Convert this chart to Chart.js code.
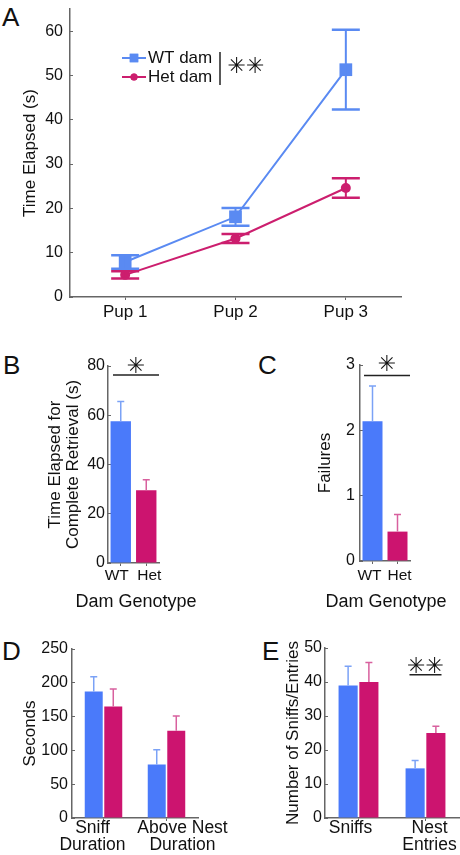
<!DOCTYPE html>
<html>
<head>
<meta charset="utf-8">
<script src="https://cdn.jsdelivr.net/npm/chart.js@4.4.1/dist/chart.umd.min.js"></script>
<style>
  body { margin: 0; background: #fff; }
  #page { position: relative; width: 460px; height: 855px; overflow: hidden; }
  canvas { position: absolute; }
  .letter { position: absolute; font: 26px 'Liberation Sans', Arial, sans-serif; line-height: 26px; color: #111; }
</style>
</head>
<body>
<div id="page">
  <div class="letter" style="left:2px;top:4px">A</div>
  <div class="letter" style="left:3px;top:352px">B</div>
  <div class="letter" style="left:258px;top:352px">C</div>
  <div class="letter" style="left:2px;top:638px">D</div>
  <div class="letter" style="left:262px;top:638px">E</div>
  <canvas id="chartA" width="460" height="335" style="left:0;top:0"></canvas>
  <canvas id="chartB" width="230" height="275" style="left:0;top:340px"></canvas>
  <canvas id="chartC" width="230" height="275" style="left:230px;top:340px"></canvas>
  <canvas id="chartD" width="230" height="240" style="left:0;top:615px"></canvas>
  <canvas id="chartE" width="230" height="240" style="left:230px;top:615px"></canvas>
</div>
<script>
// ---- data ----
const pupLabels = ['Pup 1', 'Pup 2', 'Pup 3'];
const wtTime = [7.9, 18.1, 51.3];
const wtTimeErr = [1.5, 2.0, 9.0];
const hetTime = [5.0, 13.2, 24.6];
const hetTimeErr = [0.8, 1.0, 2.2];
const timeTicks = [0, 10, 20, 30, 40, 50, 60];

const genotypes = ['WT', 'Het'];
const retrieval = [57.6, 29.5];
const retrievalErr = [8.0, 4.3];
const retrievalTicks = [0, 20, 40, 60, 80];

const failures = [2.14, 0.45];
const failuresErr = [0.54, 0.26];
const failureTicks = [0, 1, 2, 3];

const durationLabels = [['Sniff', 'Duration'], ['Above Nest', 'Duration']];
const wtDuration = [187, 79];
const wtDurationErr = [22, 22];
const hetDuration = [165, 129];
const hetDurationErr = [26, 22];
const secondTicks = [0, 50, 100, 150, 200, 250];

const countLabels = [['Sniffs'], ['Nest', 'Entries']];
const wtCount = [39.0, 14.6];
const wtCountErr = [5.6, 2.3];
const hetCount = [40.0, 25.0];
const hetCountErr = [5.7, 2.0];
const countTicks = [0, 10, 20, 30, 40, 50];

// ---- styles ----
const FONT = "'Liberation Sans', Arial, Helvetica, sans-serif";
const STAR_FONT = "bold 22px 'DejaVu Sans', sans-serif";
const AXIS = '#666';
const INK = '#111';
const BLUE_LINE = '#5a8af2', PINK_LINE = '#cc1e6e';
const BLUE = '#4a7afa', PINK = '#cc146f';
const BLUE_ERR = '#7ba2f6', PINK_ERR = '#d8609e';

// y axis with small inward tick marks (negative tick length)
function yAxis(o) {
  return {
    min: 0, max: o.max,
    afterBuildTicks: s => { s.ticks = o.ticks.map(v => ({ value: v })); },
    afterFit: s => { s.width = o.width; s.paddingTop = 0; s.paddingBottom = 0; },
    grid: { display: true, drawOnChartArea: false, drawTicks: true, tickLength: -3, color: AXIS },
    border: { display: true, color: AXIS, width: 1.5 },
    ticks: { color: INK, font: { family: FONT, size: 16 }, padding: o.pad + 3 },
    title: {
      display: true, text: o.title, color: INK,
      font: { family: FONT, size: 17, lineHeight: o.lh || 1.2 },
      padding: { top: o.titlePad, bottom: 0 }
    }
  };
}

function xAxis(o) {
  return {
    type: 'category',
    offset: true,
    afterFit: s => { s.height = o.height; s.paddingLeft = 0; s.paddingRight = 0; },
    grid: { display: true, drawOnChartArea: false, drawTicks: true, tickLength: 3, color: AXIS, offset: false },
    border: { display: true, color: AXIS, width: 1.5 },
    ticks: {
      display: o.showTicks !== false, color: INK, font: { family: FONT, size: o.size || 17 },
      padding: o.pad || 0, maxRotation: 0, autoSkip: false
    },
    title: { display: false }
  };
}

// upper error whiskers on bars
const barErrors = {
  id: 'barErrors',
  afterDatasetsDraw(chart) {
    const ctx = chart.ctx, y = chart.scales.y;
    chart.data.datasets.forEach((ds, di) => {
      chart.getDatasetMeta(di).data.forEach((bar, i) => {
        const top = y.getPixelForValue(ds.data[i]);
        const end = y.getPixelForValue(ds.data[i] + ds.errors[i]);
        ctx.save();
        ctx.strokeStyle = Array.isArray(ds.errorColor) ? ds.errorColor[i] : ds.errorColor;
        ctx.lineWidth = 1.5;
        ctx.beginPath();
        ctx.moveTo(bar.x, top); ctx.lineTo(bar.x, end);
        ctx.moveTo(bar.x - 3.5, end); ctx.lineTo(bar.x + 3.5, end);
        ctx.stroke();
        ctx.restore();
      });
    });
  }
};

// significance bar with asterisk(s)
const sigMark = {
  id: 'sigMark',
  afterDraw(chart, args, o) {
    if (!o.text) return;
    const { ctx, chartArea: ca, scales: { x, y } } = chart;
    const yl = y.getPixelForValue(o.lineAt), yt = y.getPixelForValue(o.textAt);
    let x0, x1;
    if (o.atIndex !== undefined) {
      const cx = x.getPixelForValue(o.atIndex);
      x0 = cx - o.half; x1 = cx + o.half;
    } else {
      x0 = ca.left + o.inset; x1 = ca.right;
    }
    ctx.save();
    ctx.strokeStyle = '#222'; ctx.lineWidth = 1.5;
    ctx.beginPath(); ctx.moveTo(x0, yl); ctx.lineTo(x1, yl); ctx.stroke();
    ctx.fillStyle = INK; ctx.font = STAR_FONT;
    ctx.textAlign = 'center'; ctx.textBaseline = 'middle';
    ctx.fillText(o.text, (x0 + x1) / 2, yt);
    ctx.restore();
  }
};

// category labels (and x title), nudged sideways like the original
const shiftedLabels = {
  id: 'shiftedLabels',
  afterDraw(chart, args, o) {
    if (!o.shift) return;
    const { ctx, chartArea: ca, scales: { x } } = chart;
    ctx.save();
    ctx.fillStyle = INK; ctx.font = o.size + 'px ' + FONT;
    ctx.textAlign = 'center'; ctx.textBaseline = 'middle';
    chart.data.labels.forEach((lab, i) => {
      const cx = x.getPixelForValue(i) + o.shift[i];
      [].concat(lab).forEach((line, k) => ctx.fillText(line, cx, ca.bottom + o.y0 + k * 17));
    });
    if (o.title) {
      ctx.font = '18px ' + FONT;
      ctx.fillText(o.title, (ca.left + ca.right) / 2 + o.titleShift, ca.bottom + o.titleY);
    }
    ctx.restore();
  }
};

const base = {
  responsive: false, animation: false, events: [],
  plugins: { legend: { display: false }, tooltip: { enabled: false } }
};

// ---------- A ----------
const lineErrors = {
  id: 'lineErrors',
  afterDatasetsDraw(chart) {
    const ctx = chart.ctx, y = chart.scales.y;
    chart.data.datasets.forEach((ds, di) => {
      chart.getDatasetMeta(di).data.forEach((pt, i) => {
        const hi = y.getPixelForValue(ds.data[i] + ds.errors[i]);
        const lo = y.getPixelForValue(ds.data[i] - ds.errors[i]);
        ctx.save();
        ctx.strokeStyle = ds.borderColor;
        ctx.lineWidth = 2;
        ctx.beginPath(); ctx.moveTo(pt.x, hi); ctx.lineTo(pt.x, lo); ctx.stroke();
        ctx.lineWidth = 2.5;
        ctx.beginPath();
        ctx.moveTo(pt.x - 14, hi); ctx.lineTo(pt.x + 14, hi);
        ctx.moveTo(pt.x - 14, lo); ctx.lineTo(pt.x + 14, lo);
        ctx.stroke();
        ctx.restore();
      });
    });
  }
};

const legendA = {
  id: 'legendA',
  afterDraw(chart) {
    const { ctx, chartArea: ca } = chart;
    ctx.save();
    chart.data.datasets.forEach((ds, i) => {
      const y = ca.top + 49 + i * 19;
      const x0 = ca.left + 52;
      ctx.strokeStyle = ds.borderColor; ctx.lineWidth = 2;
      ctx.beginPath(); ctx.moveTo(x0, y); ctx.lineTo(x0 + 24, y); ctx.stroke();
      ctx.fillStyle = ds.borderColor;
      Chart.helpers.drawPoint(ctx, { pointStyle: ds.pointStyle, radius: i === 0 ? 6 : 3.5, borderWidth: 0 }, x0 + 12, y);
      ctx.fill();
      ctx.fillStyle = INK; ctx.font = '17px ' + FONT;
      ctx.textAlign = 'left'; ctx.textBaseline = 'middle';
      ctx.fillText(ds.label, x0 + 26, y);
    });
    ctx.strokeStyle = '#222'; ctx.lineWidth = 1.5;
    ctx.beginPath(); ctx.moveTo(ca.left + 150, ca.top + 43); ctx.lineTo(ca.left + 150, ca.top + 76); ctx.stroke();
    ctx.fillStyle = INK; ctx.font = STAR_FONT; ctx.textAlign = 'center'; ctx.textBaseline = 'middle';
    ctx.fillText('\u2733\u2733', ca.left + 176, ca.top + 58);
    ctx.restore();
  }
};

new Chart(document.getElementById('chartA'), {
  type: 'line',
  data: {
    labels: pupLabels,
    datasets: [
      { label: 'WT dam', data: wtTime, errors: wtTimeErr, borderColor: BLUE_LINE, backgroundColor: BLUE_LINE,
        borderWidth: 2, pointStyle: 'rect', pointRadius: 9, pointBorderWidth: 0, tension: 0 },
      { label: 'Het dam', data: hetTime, errors: hetTimeErr, borderColor: PINK_LINE, backgroundColor: PINK_LINE,
        borderWidth: 2, pointStyle: 'circle', pointRadius: 5, pointBorderWidth: 0, tension: 0 }
    ]
  },
  options: Object.assign({}, base, {
    layout: { padding: { left: 0, top: 7, right: 59, bottom: 0 } },
    scales: {
      x: xAxis({ height: 38, size: 17, pad: 2 }),
      y: yAxis({ max: 65, ticks: timeTicks, width: 70, pad: 7, title: 'Time Elapsed (s)', titlePad: 20 })
    }
  }),
  plugins: [lineErrors, legendA]
});

// ---------- B ----------
new Chart(document.getElementById('chartB'), {
  type: 'bar',
  data: {
    labels: genotypes,
    datasets: [{ data: retrieval, errors: retrievalErr, backgroundColor: [BLUE, PINK], errorColor: [BLUE_ERR, PINK_ERR],
      barPercentage: 0.8, categoryPercentage: 1 }]
  },
  options: Object.assign({}, base, {
    layout: { padding: { left: 0, top: 26, right: 71, bottom: 0 } },
    plugins: Object.assign({}, base.plugins, {
      sigMark: { text: '\u2733', lineAt: 76.3, textAt: 79.6, inset: 5 },
      shiftedLabels: { shift: [-4, 3], size: 15.5, y0: 13, title: 'Dam Genotype', titleShift: 2.5, titleY: 39 }
    }),
    scales: {
      x: xAxis({ height: 52, showTicks: false }),
      y: yAxis({ max: 80, ticks: retrievalTicks, width: 108, pad: 3,
        title: ['Time Elapsed for', 'Complete Retrieval (s)'], titlePad: 46, lh: 1.06 })
    }
  }),
  plugins: [barErrors, sigMark, shiftedLabels]
});

// ---------- C ----------
new Chart(document.getElementById('chartC'), {
  type: 'bar',
  data: {
    labels: genotypes,
    datasets: [{ data: failures, errors: failuresErr, backgroundColor: [BLUE, PINK], errorColor: [BLUE_ERR, PINK_ERR],
      barPercentage: 0.8, categoryPercentage: 1 }]
  },
  options: Object.assign({}, base, {
    layout: { padding: { left: 0, top: 25, right: 50, bottom: 0 } },
    plugins: Object.assign({}, base.plugins, {
      sigMark: { text: '\u2733', lineAt: 2.84, textAt: 2.99, inset: 4 },
      shiftedLabels: { shift: [-3, 2], size: 15.5, y0: 15, title: 'Dam Genotype', titleShift: 1, titleY: 41 }
    }),
    scales: {
      x: xAxis({ height: 54, showTicks: false }),
      y: yAxis({ max: 3, ticks: failureTicks, width: 130, pad: 5, title: 'Failures', titlePad: 85 })
    }
  }),
  plugins: [barErrors, sigMark, shiftedLabels]
});

// ---------- D ----------
new Chart(document.getElementById('chartD'), {
  type: 'bar',
  data: {
    labels: durationLabels,
    datasets: [
      { data: wtDuration, errors: wtDurationErr, backgroundColor: BLUE, errorColor: BLUE_ERR, barPercentage: 0.92, categoryPercentage: 0.62 },
      { data: hetDuration, errors: hetDurationErr, backgroundColor: PINK, errorColor: PINK_ERR, barPercentage: 0.92, categoryPercentage: 0.62 }
    ]
  },
  options: Object.assign({}, base, {
    layout: { padding: { left: 0, top: 34, right: 32, bottom: 0 } },
    plugins: Object.assign({}, base.plugins, { shiftedLabels: { shift: [-11, 16], size: 17.5, y0: 10 } }),
    scales: {
      x: xAxis({ height: 37, showTicks: false }),
      y: yAxis({ max: 250, ticks: secondTicks, width: 72, pad: 4, title: 'Seconds', titlePad: 20 })
    }
  }),
  plugins: [barErrors, shiftedLabels]
});

// ---------- E ----------
new Chart(document.getElementById('chartE'), {
  type: 'bar',
  data: {
    labels: countLabels,
    datasets: [
      { data: wtCount, errors: wtCountErr, backgroundColor: BLUE, errorColor: BLUE_ERR, barPercentage: 0.92, categoryPercentage: 0.62 },
      { data: hetCount, errors: hetCountErr, backgroundColor: PINK, errorColor: PINK_ERR, barPercentage: 0.92, categoryPercentage: 0.62 }
    ]
  },
  options: Object.assign({}, base, {
    layout: { padding: { left: 0, top: 33, right: 1, bottom: 0 } },
    plugins: Object.assign({}, base.plugins, {
      shiftedLabels: { shift: [-8, 4], size: 17.5, y0: 10 },
      sigMark: { text: '\u2733\u2733', lineAt: 42.1, textAt: 44.2, atIndex: 1, half: 16 }
    }),
    scales: {
      x: xAxis({ height: 37, showTicks: false }),
      y: yAxis({ max: 50, ticks: countTicks, width: 95, pad: 3, title: 'Number of Sniffs/Entries', titlePad: 53 })
    }
  }),
  plugins: [barErrors, shiftedLabels, sigMark]
});
</script>
</body>
</html>
